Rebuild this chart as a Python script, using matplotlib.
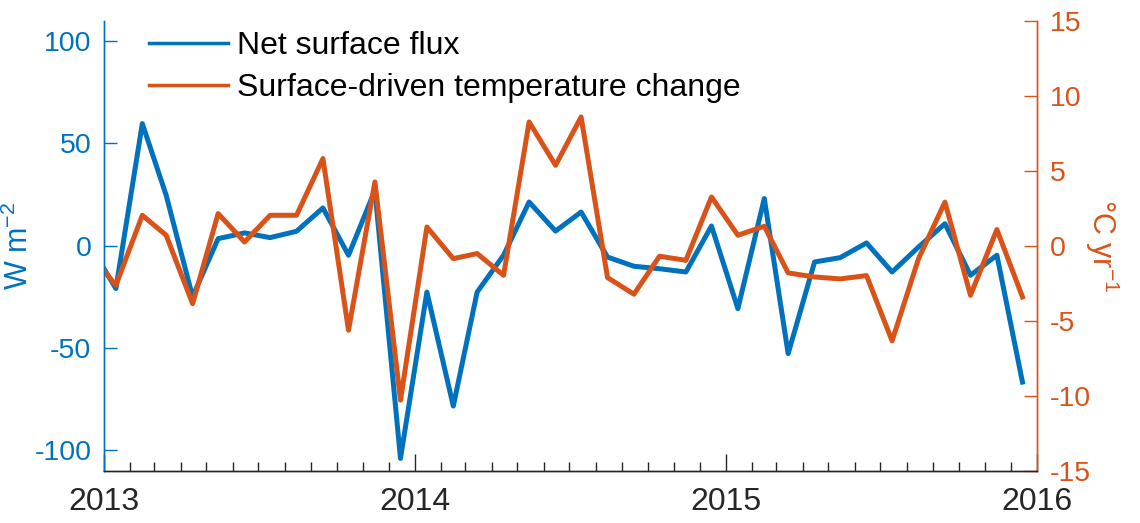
import matplotlib
matplotlib.use('Agg')
import matplotlib.pyplot as plt
import matplotlib.dates as mdates
import pandas as pd

plt.rcParams['font.family'] = ['Liberation Sans', 'DejaVu Sans']
plt.rcParams['axes.unicode_minus'] = False
plt.rcParams['mathtext.fontset'] = 'custom'
plt.rcParams['mathtext.rm'] = 'Liberation Sans'
plt.rcParams['mathtext.default'] = 'regular'

# monthly values, mid-month, Dec 2012 .. Dec 2015
months = pd.date_range('2012-12-01', periods=37, freq='MS') + pd.Timedelta(days=14)

net_flux = [0.5, -21, 59.6, 24.6, -25, 3.4, 6.2, 3.9, 7, 18.4, -4.7, 27, -104,
            -22.7, -78.4, -22.7, -4.7, 21.3, 7.1, 16.4, -5.6, -10.1, -11.3, -12.9, 9.6,
            -30.8, 23, -52.8, -8, -5.9, 1.3, -12.9, -0.7, 10.7, -14.5, -4.7, -66.7]

temp_change = [-0.5, -2.64, 2.02, 0.69, -3.87, 2.13, 0.24, 2.02, 2.02, 5.8, -5.64, 4.24, -10.3,
               1.24, -0.87, -0.53, -1.98, 8.24, 5.35, 8.57, -2.13, -3.24, -0.71, -0.98, 3.24,
               0.69, 1.29, -1.82, -2.09, -2.22, -2.0, -6.35, -0.87, 2.9, -3.31, 1.07, -3.42]

blue = '#0072BD'
orange = '#D95319'
dark = '#262626'

fig = plt.figure(figsize=(11.4, 5.23), dpi=100)
ax1 = fig.add_axes([0.0912, 0.1000, 0.8184, 0.8608])
ax2 = ax1.twinx()

l1, = ax1.plot(months, net_flux, color=blue, lw=3.6, label='Net surface flux')
l2, = ax2.plot(months, temp_change, color=orange, lw=3.6, label='Surface-driven temperature change')

ax1.set_xlim(pd.Timestamp('2013-01-01'), pd.Timestamp('2016-01-01'))
ax1.set_ylim(-110, 110)
ax2.set_ylim(-15, 15)

ax1.xaxis.set_major_locator(mdates.YearLocator())
ax1.xaxis.set_major_formatter(mdates.DateFormatter('%Y'))
ax1.xaxis.set_minor_locator(mdates.MonthLocator())
ax1.set_yticks([-100, -50, 0, 50, 100])
ax2.set_yticks([-15, -10, -5, 0, 5, 10, 15])

for ax in (ax1, ax2):
    ax.spines['top'].set_visible(False)
    ax.spines['bottom'].set_color(dark)
    ax.spines['left'].set_color(blue)
    ax.spines['right'].set_color(orange)
    for s in ax.spines.values():
        s.set_linewidth(1.0)

ax1.tick_params(axis='x', which='major', direction='in', length=12, width=1,
                color=dark, labelcolor=dark, labelsize=23, pad=11.5)
ax1.tick_params(axis='x', which='minor', direction='in', length=6.5, width=1, color=dark)
ax1.tick_params(axis='y', direction='in', length=9.5, width=1, color=blue,
                labelcolor=blue, labelsize=20.5, pad=9)
ax2.tick_params(axis='y', direction='in', length=9.5, width=1, color=orange,
                labelcolor=orange, labelsize=20.5, pad=9)

ax1.set_ylabel('W m$^{-2}$', color=blue, fontsize=22)
ax1.yaxis.set_label_coords(-0.074, 0.5)
ax2.set_ylabel('$\\degree$C yr$^{-1}$', color=orange, fontsize=22, rotation=-90)
ax2.yaxis.set_label_coords(1.09, 0.5)

leg = ax2.legend(handles=[l1, l2], loc='upper left', bbox_to_anchor=(0.035, 1.005),
                 frameon=False, fontsize=23, handlelength=2.45, handletextpad=0.3,
                 labelspacing=0.38, borderaxespad=0)
for line in leg.get_lines():
    line.set_linewidth(2.5)

plt.savefig('out.png', dpi=100)
